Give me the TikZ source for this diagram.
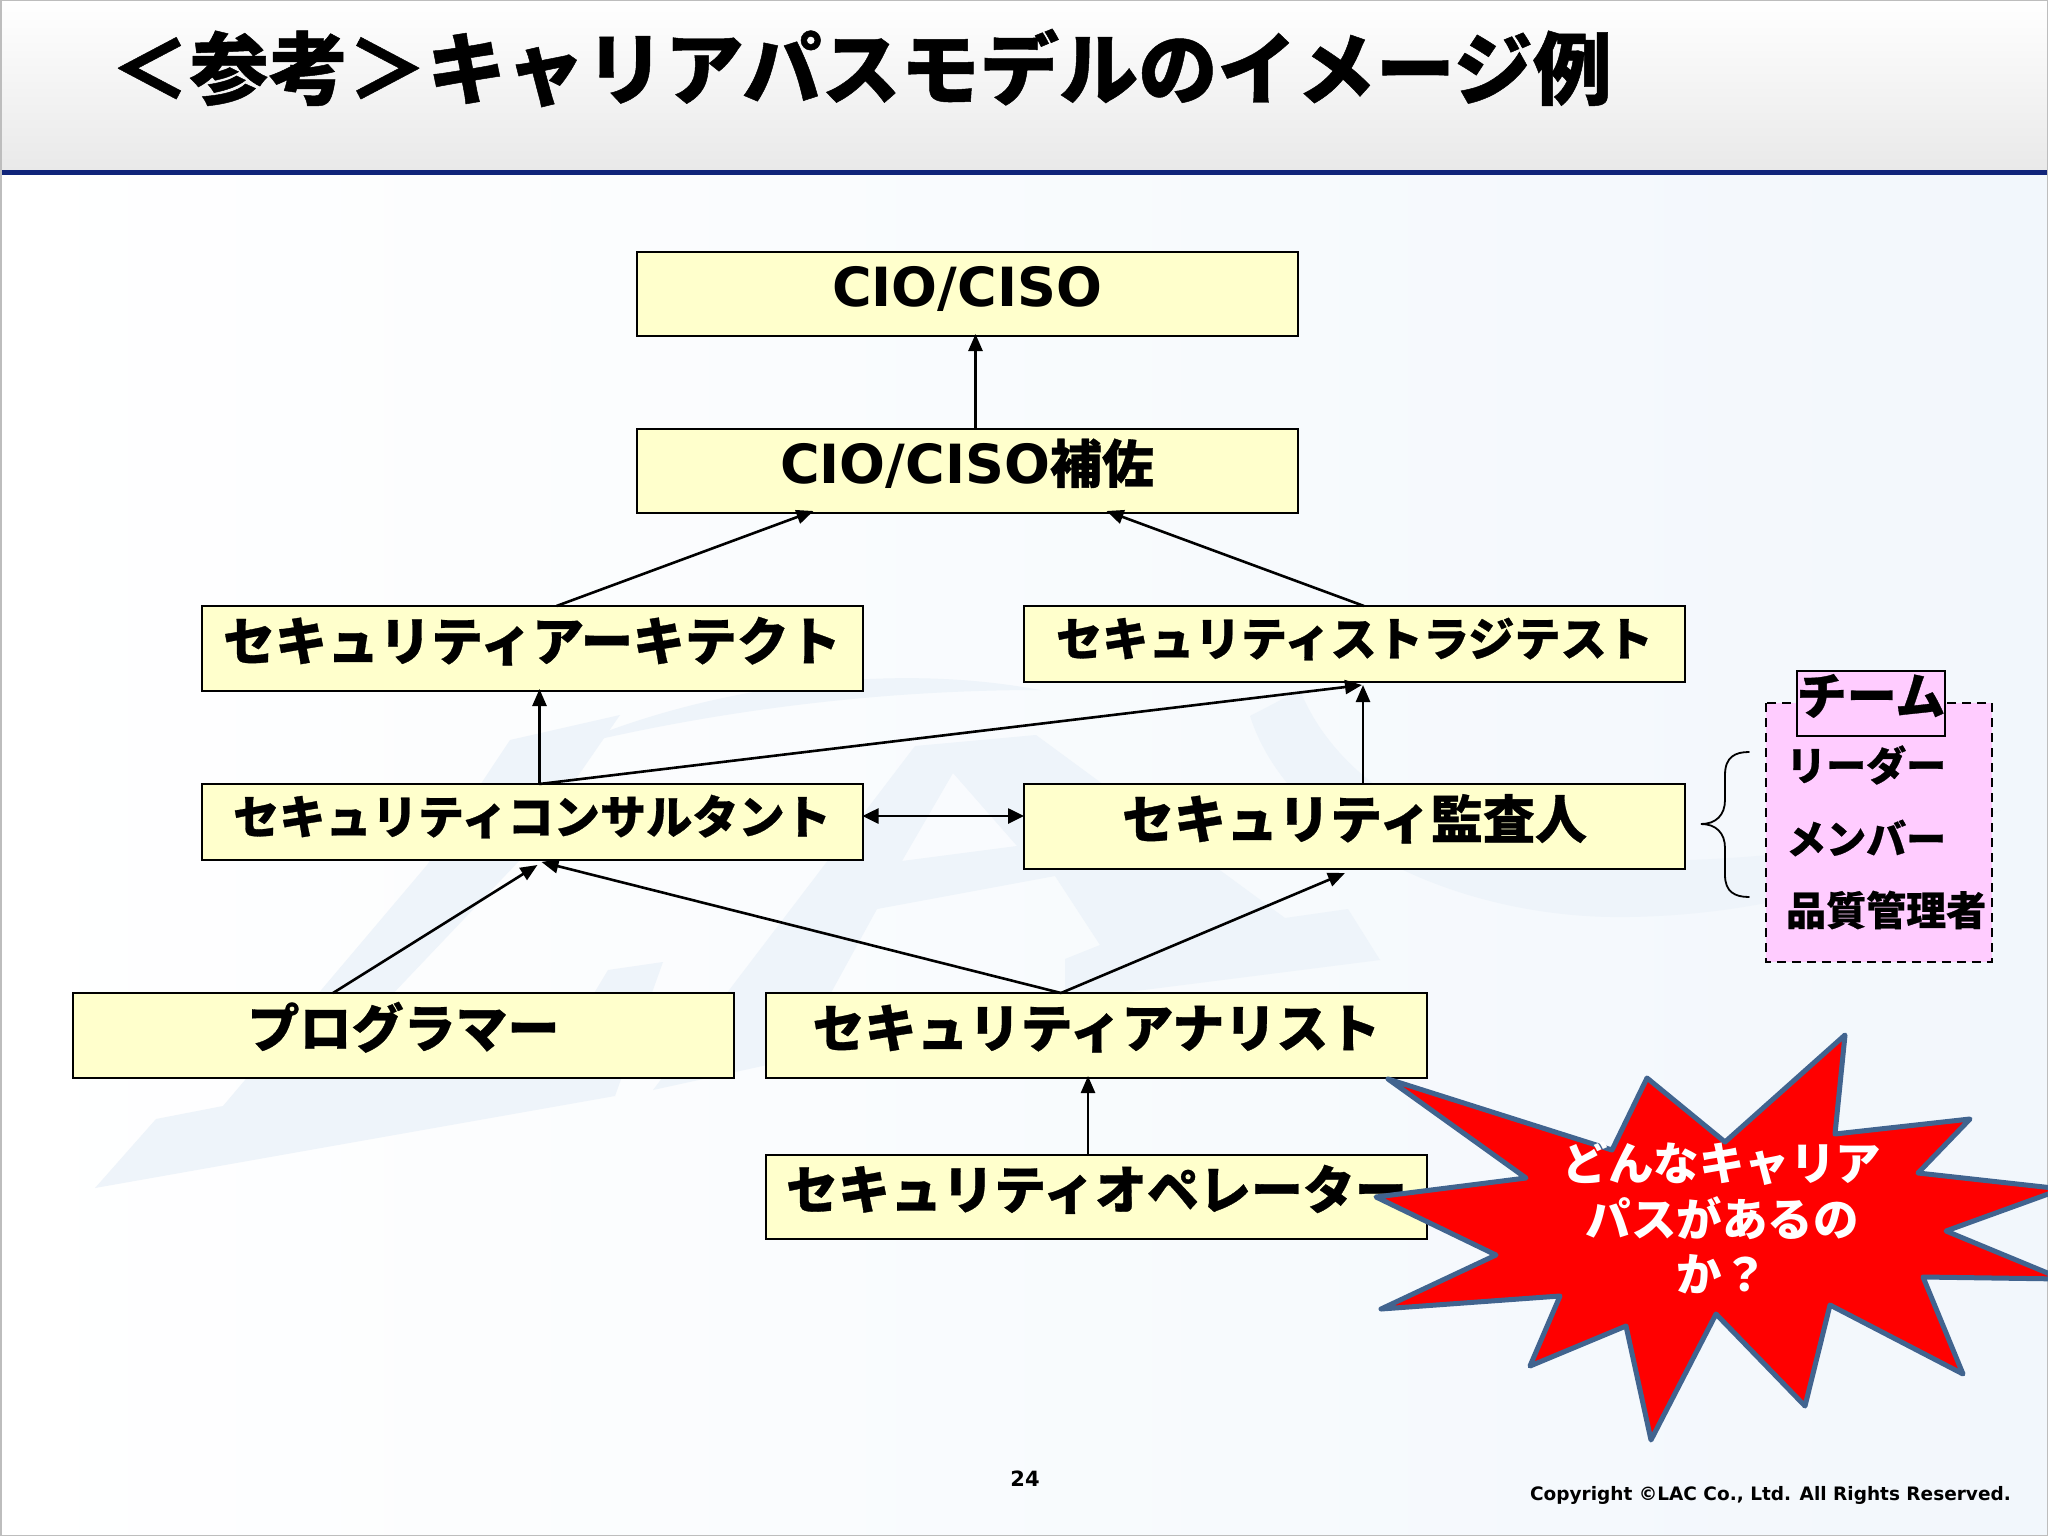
\documentclass[tikz,border=0pt]{standalone}
\usepackage{fontspec}
\usetikzlibrary{arrows.meta,calc}
\setmainfont{DejaVu Sans}
\newfontfamily\jp{Noto Sans CJK JP}[BoldFeatures={FakeBold=0.6}]
\newfontfamily\jpq{Noto Sans CJK JP}
\newfontfamily\lat{DejaVu Sans}
\definecolor{boxfill}{HTML}{FFFFCC}
\definecolor{teamfill}{HTML}{FFCCFF}
\definecolor{burst}{HTML}{FF0000}
\definecolor{burstline}{HTML}{41648F}
\definecolor{wm}{HTML}{EEF4FA}
\definecolor{rulecol}{HTML}{10247A}
\definecolor{bgend}{HTML}{F2F7FC}
\definecolor{headend}{HTML}{E9E9E9}
\definecolor{edgegray}{HTML}{BDBDBD}
\newcommand{\fs}[1]{\fontsize{#1}{#1}\selectfont}
\tikzset{
  rolebox/.style={draw=black,line width=2pt,fill=boxfill,inner sep=0pt,outer sep=0pt,
    minimum width=661pt,text height=40pt,text depth=16pt,font=\bfseries\jp\fs{52}},
  rolesmall/.style={rolebox,font=\bfseries\jp\fs{46.2}},
  link/.style={line width=2.6pt,-{Triangle[length=17pt,width=14pt]}},
  teamitem/.style={anchor=west,inner sep=0pt,font=\bfseries\jp\fs{40}},
}
\begin{document}
\begin{tikzpicture}[x=1pt,y=-1pt]
\useasboundingbox (0,0) rectangle (2048,1536);
% background
\shade[left color=white,right color=bgend] (0,172) rectangle (2048,1536);
% watermark
\fill[wm] (95,1188)--(156,1119)--(223,1106)--(427,865)--(510,740)--(620,715)--(520,860)--(330,1060)--(590,1000)--(608,970)--(663,962)--(615,1096)--cycle;
\fill[wm,even odd rule] (653,1090)--(915,746)--(1036,735)--(1285,918)--(1348,909)--(1380,960)--(1065,1000)--(1065,959)--(1100,945)--(1055,876)--(877,909)--(832,991)--(790,1060)--cycle
  (953,773)--(902,861)--(1017,846)--cycle;
\fill[wm] (570,746) .. controls (700,690) and (880,660) .. (1040,690) .. controls (880,690) and (720,710) .. (570,746)--cycle;
\fill[wm] (1250,716) .. controls (1290,840) and (1460,920) .. (1629,917) .. controls (1760,915) and (1900,880) .. (2000,810)
  .. controls (1880,850) and (1720,865) .. (1590,860) .. controls (1460,850) and (1340,790) .. (1300,690)--cycle;
% header
\shade[top color=white,bottom color=headend] (0,0) rectangle (2048,170);
\fill[rulecol] (0,170) rectangle (2048,174.5);
\draw[edgegray,line width=3pt] (0,0) rectangle (2048,1536);
\node[anchor=west,inner sep=0pt,font=\bfseries\jp\fs{79.2}] (title) at (110,68) {＜参考＞キャリアパスモデルのイメージ例};
% role boxes
\node[rolebox,minimum height=84pt] (cio) at (967,294) {\lat\mdseries\bfseries\fs{54}CIO/CISO};
\node[rolebox,minimum height=84pt] (hosa) at (967,471) {{\lat\fs{54}CIO/CISO}補佐};
\node[rolebox,minimum height=85pt] (arch) at (532,648.5) {セキュリティアーキテクト};
\node[rolesmall,minimum height=76pt] (strat) at (1354.5,644) {セキュリティストラジテスト};
\node[rolesmall,minimum height=76pt] (cons) at (532,822) {セキュリティコンサルタント};
\node[rolebox,minimum height=85pt] (audit) at (1354.5,826.5) {セキュリティ監査人};
\node[rolebox,minimum height=85pt] (prog) at (403.5,1035.5) {プログラマー};
\node[rolebox,minimum height=85pt] (anal) at (1096.5,1035.5) {セキュリティアナリスト};
\node[rolebox,minimum height=84pt] (oper) at (1096.5,1197) {セキュリティオペレーター};
% connectors
\draw[link] ([xshift=339pt]hosa.north west) -- ([xshift=339pt,yshift=2pt]cio.south west);
\draw[link] ([xshift=355pt]arch.north west) -- ([xshift=177pt,yshift=2pt]hosa.south west);
\draw[link] ([xshift=340pt]strat.north west) -- ([xshift=470pt,yshift=2pt]hosa.south west);
\draw[link] ([xshift=338pt]cons.north west) -- ([xshift=338pt,yshift=2pt]arch.south west);
\draw[link] ([xshift=338pt]cons.north west) -- ([xshift=338pt,yshift=-3pt]strat.south west);
\draw[link] ([xshift=339pt]audit.north west) -- ([xshift=339pt,yshift=-3pt]strat.south west);
\draw[line width=2.6pt,{Triangle[length=16pt,width=15pt]}-{Triangle[length=16pt,width=15pt]}] ([yshift=-32pt]cons.north east) -- ([yshift=-32pt]audit.north west);
\draw[link] ([xshift=260pt]prog.north west) -- ([xshift=336pt,yshift=-5pt]cons.south west);
\draw[link] ([xshift=295pt]anal.north west) -- ([xshift=340pt,yshift=-2pt]cons.south west);
\draw[link] ([xshift=295pt]anal.north west) -- ([xshift=321pt,yshift=-4pt]audit.south west);
\draw[link] ([xshift=322pt]oper.north west) -- ([xshift=322pt,yshift=2pt]anal.south west);
% team panel
\draw[fill=teamfill,draw=black,line width=2pt,dash pattern=on 9pt off 6pt] (1766,703) rectangle (1992,962);
\node[draw=black,line width=2pt,fill=teamfill,inner sep=0pt,outer sep=0pt,minimum width=146pt,minimum height=65pt,
  text height=34pt,text depth=12pt,font=\bfseries\jp\fs{50}] (team) at (1871,703.5) {チーム};
\node[teamitem] (leader) at (1786,765) {リーダー};
\node[teamitem] (member) at (1786,838) {メンバー};
\node[teamitem] (qa) at (1786,910) {品質管理者};
\draw[line width=1.8pt,line cap=round] (1749,752) .. controls (1735,752) and (1725,757) .. (1725,775)
  -- (1725,800) .. controls (1725,815) and (1716,824) .. (1701,824)
  .. controls (1716,824) and (1725,833) .. (1725,848) -- (1725,875)
  .. controls (1725,892) and (1735,897) .. (1749,897);
% burst
\draw[fill=burst,draw=burstline,line width=5pt,line join=round]
 (1388,1079)--(1612,1150)--(1647,1078)--(1725,1142)--(1845,1035)--(1835,1134)--(1970,1119)--(1918,1173)
 --(2062,1189)--(1946,1231)--(2062,1279)--(1923,1277)--(1963,1374)--(1830,1305)--(1805,1406)--(1716,1314)
 --(1651,1440)--(1626,1326)--(1530,1366)--(1560,1296)--(1381,1309)--(1496,1255)--(1376,1197)--(1526,1178)--cycle;
\node[align=center,text=white,inner sep=0pt,font=\bfseries\jpq\fs{45.5}] (q) at (1722,1218) {どんなキャリア\\[10pt]パスがあるの\\[10pt]か？};
% footer
\node[inner sep=0pt,font=\bfseries\fs{21}] (page) at (1025,1479) {24};
\node[anchor=east,inner sep=0pt,font=\bfseries\fs{18.5}] (copy) at (2011,1495) {Copyright ©LAC Co., Ltd. All Rights Reserved.};
\end{tikzpicture}
\end{document}
